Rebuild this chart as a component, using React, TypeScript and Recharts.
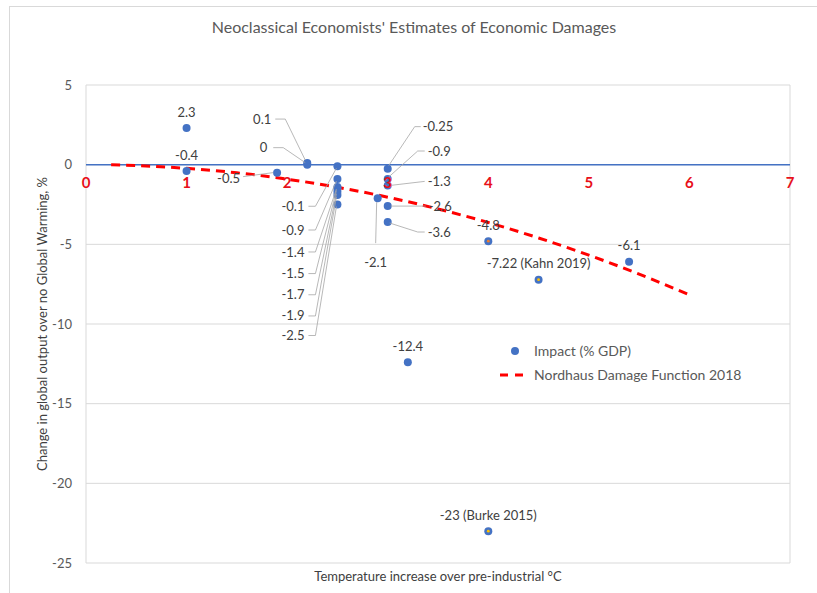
import {
  ComposedChart,
  Scatter,
  Line,
  XAxis,
  YAxis,
  CartesianGrid,
  ReferenceLine,
  Legend,
} from 'recharts';

const FONT = 'Lato, "Open Sans", sans-serif';

// Impact estimates: warming (°C) vs change in output (% GDP)
const tempRise = [1, 1, 1.9, 2.2, 2.2, 2.5, 2.5, 2.5, 2.5, 2.5, 2.5, 2.5, 2.9, 3, 3, 3, 3, 3, 4, 4.5, 5.4, 3.2, 4];
const impact = [2.3, -0.4, -0.5, 0.1, 0, -0.1, -0.9, -1.4, -1.5, -1.7, -1.9, -2.5, -2.1, -0.25, -0.9, -1.3, -2.6, -3.6, -4.8, -7.22, -6.1, -12.4, -23];
const impactLabels = [
  '2.3', '-0.4', '-0.5', '0.1', '0', '-0.1', '-0.9', '-1.4', '-1.5', '-1.7', '-1.9', '-2.5',
  '-2.1', '-0.25', '-0.9', '-1.3', '-2.6', '-3.6', '-4.8', '-7.22 (Kahn 2019)', '-6.1', '-12.4',
  '-23 (Burke 2015)',
];

// Nordhaus damage function 2018
const nordhausT = [0.25, 0.5, 1, 1.5, 2, 2.5, 3, 3.5, 4, 4.5, 5, 5.5, 6];
const nordhausD = [-0.01, -0.06, -0.23, -0.51, -0.91, -1.42, -2.04, -2.78, -3.63, -4.6, -5.68, -6.87, -8.17];

const xTicks = [0, 1, 2, 3, 4, 5, 6, 7];
const yTicks = [-25, -20, -15, -10, -5, 0, 5];

const impactData = tempRise.map((x, i) => ({ x, y: impact[i], label: impactLabels[i], i }));
const nordhausData = nordhausT.map((x, i) => ({ x, y: nordhausD[i] }));
const xTickData = xTicks.map(x => ({ x, y: 0 }));

// label placement (pixel offsets from the point) and leader lines
type LabelPos = { dx: number; dy: number; anchor: 'start' | 'middle' | 'end'; leader?: number[][] };
const TOP: LabelPos = { dx: 0, dy: -16, anchor: 'middle' };
const stackLeft = (dy: number): LabelPos => ({
  dx: -33,
  dy,
  anchor: 'end',
  leader: [[-29, dy], [-22, dy], [-1, 2]],
});
const labelLayout: LabelPos[] = [
  TOP,
  TOP,
  { dx: -37, dy: 6, anchor: 'end', leader: [[-34, 4], [-4, 0]] },
  { dx: -36, dy: -44, anchor: 'end', leader: [[-32, -44], [-22, -44], [-2, -3]] },
  { dx: -40, dy: -17, anchor: 'end', leader: [[-34, -17], [-24, -17], [-2, -2]] },
  stackLeft(40),
  stackLeft(51),
  stackLeft(65),
  stackLeft(85),
  stackLeft(103),
  stackLeft(121),
  stackLeft(131),
  { dx: -2, dy: 64, anchor: 'middle', leader: [[-1, 4], [-2, 45]] },
  { dx: 35, dy: -42, anchor: 'start', leader: [[1, -3], [27, -42], [33, -42]] },
  { dx: 40, dy: -28, anchor: 'start', leader: [[1, -2], [30, -28], [37, -28]] },
  { dx: 40, dy: -4, anchor: 'start', leader: [[3, 0], [37, -4]] },
  { dx: 41, dy: 0, anchor: 'start', leader: [[3, 0], [38, 0]] },
  { dx: 40, dy: 10, anchor: 'start', leader: [[2, 1], [30, 10], [37, 10]] },
  TOP,
  TOP,
  TOP,
  TOP,
  TOP,
];
const centreColor: Record<number, string> = { 18: '#ED7D31', 19: '#FFC000', 22: '#FFC000' };

function ImpactDot(props: any) {
  const { cx, cy, payload } = props;
  const inner = centreColor[payload.i];
  return (
    <g>
      <circle cx={cx} cy={cy} r={4} fill="#4472C4" />
      {inner && <circle cx={cx} cy={cy} r={1.4} fill={inner} />}
    </g>
  );
}

function ImpactLabel(props: any) {
  const { cx, cy, payload } = props;
  const pos = labelLayout[payload.i];
  return (
    <g>
      {pos.leader && (
        <polyline
          points={pos.leader.map(p => `${cx + p[0]},${cy + p[1]}`).join(' ')}
          fill="none"
          stroke="#A6A6A6"
          strokeWidth={0.8}
        />
      )}
      <text
        x={cx + pos.dx}
        y={cy + pos.dy}
        dy="0.35em"
        textAnchor={pos.anchor}
        fontSize={13}
        fontFamily={FONT}
        fill="#404040"
      >
        {payload.label}
      </text>
    </g>
  );
}

function XTickMark(props: any) {
  const { cx, cy, payload } = props;
  return (
    <text
      x={cx}
      y={cy + 18}
      dy="0.35em"
      textAnchor="middle"
      fontSize={15}
      fontWeight={700}
      fontFamily={FONT}
      fill="#E8101A"
    >
      {payload.x}
    </text>
  );
}

function LegendBox({ payload }: any) {
  const items = (payload || []).filter((e: any) => e.type !== 'none');
  return (
    <svg width={260} height={48}>
      {items.map((e: any, k: number) => {
        const y = 11 + k * 24;
        return (
          <g key={k}>
            {e.type === 'circle' ? (
              <circle cx={20} cy={y} r={4} fill={e.color} />
            ) : (
              <line x1={5} y1={y} x2={30} y2={y} stroke={e.color} strokeWidth={3} strokeDasharray="8 7" />
            )}
            <text x={39} y={y} dy="0.35em" fontSize={14} fontFamily={FONT} fill="#595959">
              {e.value}
            </text>
          </g>
        );
      })}
    </svg>
  );
}

export default function App() {
  return (
    <div
      style={{
        position: 'absolute',
        left: 0,
        top: 0,
        width: 817,
        height: 593,
        overflow: 'hidden',
        background: '#fff',
        fontFamily: FONT,
      }}
    >
      <div
        style={{
          position: 'absolute',
          left: 9,
          top: 6,
          width: 830,
          height: 620,
          borderLeft: '1px solid #D9D9D9',
          borderTop: '1px solid #D9D9D9',
        }}
      />
      <div
        style={{
          position: 'absolute',
          left: 9,
          top: 16,
          width: 810,
          textAlign: 'center',
          fontSize: 16,
          lineHeight: '22px',
          color: '#595959',
        }}
      >
        Neoclassical Economists' Estimates of Economic Damages
      </div>
      <div style={{ position: 'absolute', left: 0, top: 0 }}>
        <ComposedChart width={817} height={593} margin={{ top: 85, right: 27, bottom: 0, left: 0 }}>
          <CartesianGrid stroke="#D9D9D9" />
          <XAxis
            dataKey="x"
            type="number"
            domain={[0, 7]}
            ticks={xTicks}
            tick={false}
            tickLine={false}
            axisLine={false}
            height={30}
            label={({ viewBox }: any) => (
              <text
                x={viewBox.x + viewBox.width / 2}
                y={viewBox.y + 13}
                dy="0.35em"
                textAnchor="middle"
                fontSize={13}
                fontFamily={FONT}
                fill="#404040"
              >
                Temperature increase over pre-industrial °C
              </text>
            )}
          />
          <YAxis
            dataKey="y"
            type="number"
            domain={[-25, 5]}
            ticks={yTicks}
            width={86}
            tickLine={false}
            axisLine={false}
            tickMargin={8}
            tick={{ fontSize: 13, fill: '#595959', fontFamily: FONT }}
            label={({ viewBox }: any) => {
              const cy = viewBox.y + viewBox.height / 2;
              return (
                <text
                  x={42}
                  y={cy}
                  dy="0.35em"
                  textAnchor="middle"
                  transform={`rotate(-90, 42, ${cy})`}
                  fontSize={13}
                  fontFamily={FONT}
                  fill="#404040"
                >
                  Change in global output over no Global Warming, %
                </text>
              );
            }}
          />
          <ReferenceLine y={0} stroke="#4472C4" strokeWidth={1.5} />
          <Scatter
            name="Impact (% GDP)"
            data={impactData}
            fill="#4472C4"
            legendType="circle"
            shape={ImpactDot}
            isAnimationActive={false}
          />
          <Line
            name="Nordhaus Damage Function 2018"
            data={nordhausData}
            dataKey="y"
            type="monotone"
            stroke="#FF0000"
            strokeWidth={3}
            strokeDasharray="9 6"
            dot={false}
            activeDot={false}
            legendType="line"
            isAnimationActive={false}
          />
          <Scatter data={impactData} legendType="none" shape={ImpactLabel} isAnimationActive={false} />
          <Scatter data={xTickData} legendType="none" shape={XTickMark} isAnimationActive={false} />
          <Legend
            layout="horizontal"
            verticalAlign="middle"
            align="center"
            content={LegendBox}
            wrapperStyle={{ left: 495, top: 340, width: 260, height: 48 }}
          />
        </ComposedChart>
      </div>
    </div>
  );
}
